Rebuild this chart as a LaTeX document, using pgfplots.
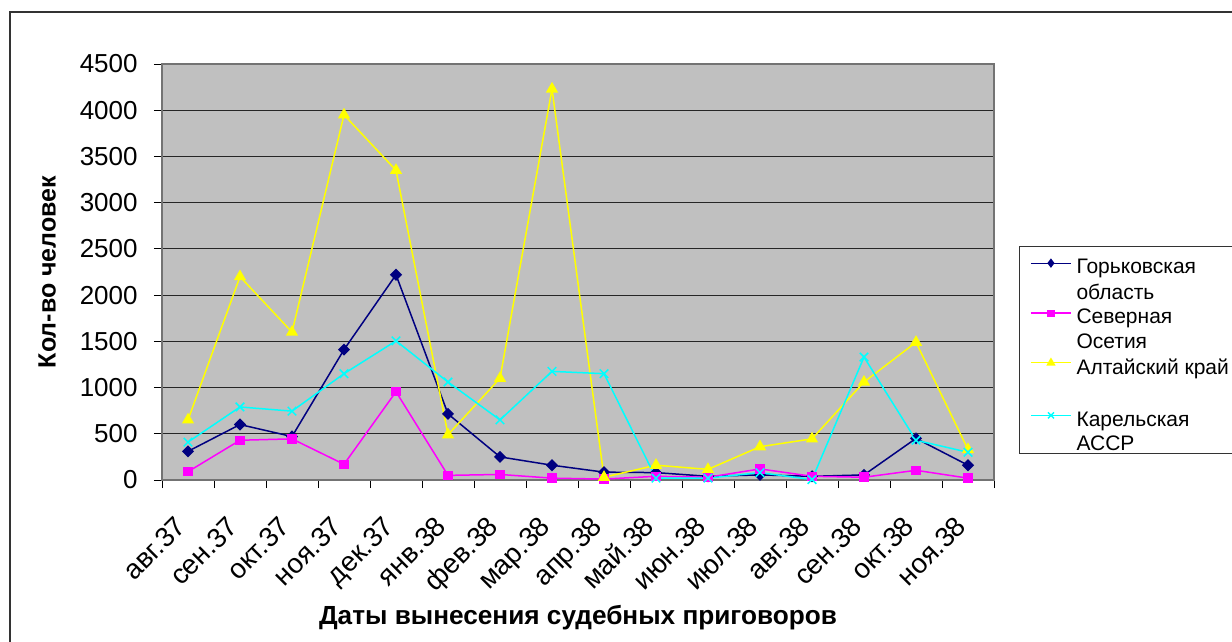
\documentclass[border=0pt]{standalone}
\usepackage{pgfplots}
\pgfplotsset{compat=1.18}
\usepackage{fontspec}
\setmainfont{Liberation Sans}
\definecolor{cnavy}{HTML}{000080}
\definecolor{cmag}{HTML}{FF00FF}
\definecolor{cyel}{HTML}{FFFF00}
\definecolor{ccyan}{HTML}{00FFFF}
\definecolor{cbg}{HTML}{C0C0C0}
\begin{document}
\begin{tikzpicture}
\useasboundingbox (0pt,0pt) rectangle (616pt,-321pt);
\draw[line width=0.9pt, black!80] (620pt,-6pt) -- (5pt,-6pt) -- (5pt,-325pt);
\begin{axis}[
  at={(81pt,-240pt)}, anchor=south west,
  scale only axis, width=416pt, height=208pt,
  xmin=-0.5, xmax=15.5, ymin=0, ymax=4500,
  axis background/.style={fill=cbg},
  axis line style={draw=black!55, line width=0.7pt},
  xtick={0,...,15},
  xticklabels={авг.37,сен.37,окт.37,ноя.37,дек.37,янв.38,фев.38,мар.38,апр.38,май.38,июн.38,июл.38,авг.38,сен.38,окт.38,ноя.38},
  major x tick style={draw=none},
  minor xtick={-0.5,0.5,...,15.5},
  minor x tick style={black, line width=0.5pt},
  minor tick length=4pt,
  ytick={0,500,...,4500},
  major tick length=4pt,
  tick align=outside,
  tick pos=left,
  y tick style={black, line width=0.5pt},
  ymajorgrids, major grid style={black!85, line width=0.5pt},
  /pgf/number format/assume math mode=true,
  /pgf/number format/1000 sep={},
  yticklabel style={font=\fontsize{13}{15}\selectfont, inner sep=0pt, xshift=-8pt, anchor=east},
  xticklabel style={font=\fontsize{13.8}{16}\selectfont, inner sep=0pt, xshift=0pt, yshift=-20pt, rotate=45, anchor=base east},
  xlabel={Даты вынесения судебных приговоров},
  ylabel={Кол-во человек},
  every axis x label/.style={at={(axis description cs:0.5,-0.33)}, anchor=center, font=\fontsize{13.1}{15}\selectfont\bfseries},
  every axis y label/.style={at={(axis description cs:-0.138,0.5)}, rotate=90, anchor=center, font=\fontsize{12.5}{15}\selectfont\bfseries},
  clip=false,
  legend style={at={(axis description cs:1.030,0.5433)}, anchor=north west, draw=none, fill=none,
    font=\fontsize{10.5}{12.5}\selectfont, inner xsep=5.5pt, inner ysep=2.5pt,
    cells={anchor=base west}, nodes={inner sep=0pt}, row sep=3.5pt, column sep=2.5pt},
  legend cell align=left,
  legend image code/.code={
    \draw[#1, mark=none, line width=0.6pt] (0pt,2.5pt) -- (20pt,2.5pt);
    \draw[#1, only marks, mark options={scale=0.7}] plot coordinates {(10pt,2.5pt)};
  },
  every axis plot/.append style={line width=0.75pt},
]
\addplot[color=cnavy, mark=diamond*, mark size=2.5pt, mark options={xscale=1.33, fill=cnavy}] coordinates {
(0,310) (1,600) (2,470) (3,1410) (4,2220) (5,715) (6,250) (7,160) (8,85) (9,80) (10,40) (11,55) (12,40) (13,55) (14,450) (15,160)};
\addlegendentry{Горьковская}
\addlegendimage{empty legend}
\addlegendentry{область}
\addplot[color=cmag, mark=square*, mark size=2pt, mark options={fill=cmag}] coordinates {
(0,90) (1,430) (2,445) (3,170) (4,955) (5,50) (6,60) (7,20) (8,10) (9,40) (10,30) (11,120) (12,40) (13,30) (14,105) (15,20)};
\addlegendentry{Северная}
\addlegendimage{empty legend}
\addlegendentry{Осетия}
\addplot[color=cyel, mark=triangle*, mark size=2.8pt, mark options={fill=cyel}] coordinates {
(0,650) (1,2200) (2,1600) (3,3950) (4,3350) (5,490) (6,1100) (7,4230) (8,30) (9,160) (10,115) (11,360) (12,445) (13,1060) (14,1490) (15,330)};
\addlegendentry{Алтайский край}
\addlegendimage{empty legend}
\addlegendentry{\strut}
\addplot[color=ccyan, mark=x, mark size=3pt] coordinates {
(0,410) (1,790) (2,745) (3,1150) (4,1505) (5,1060) (6,650) (7,1175) (8,1150) (9,20) (10,20) (11,80) (12,5) (13,1330) (14,430) (15,300)};
\addlegendentry{Карельская}
\addlegendimage{empty legend}
\addlegendentry{АССР}
\end{axis}
\draw[black!80, line width=0.5pt] (630pt,-123pt) -- (509.5pt,-123pt) -- (509.5pt,-226.5pt) -- (630pt,-226.5pt);
\end{tikzpicture}
\end{document}
